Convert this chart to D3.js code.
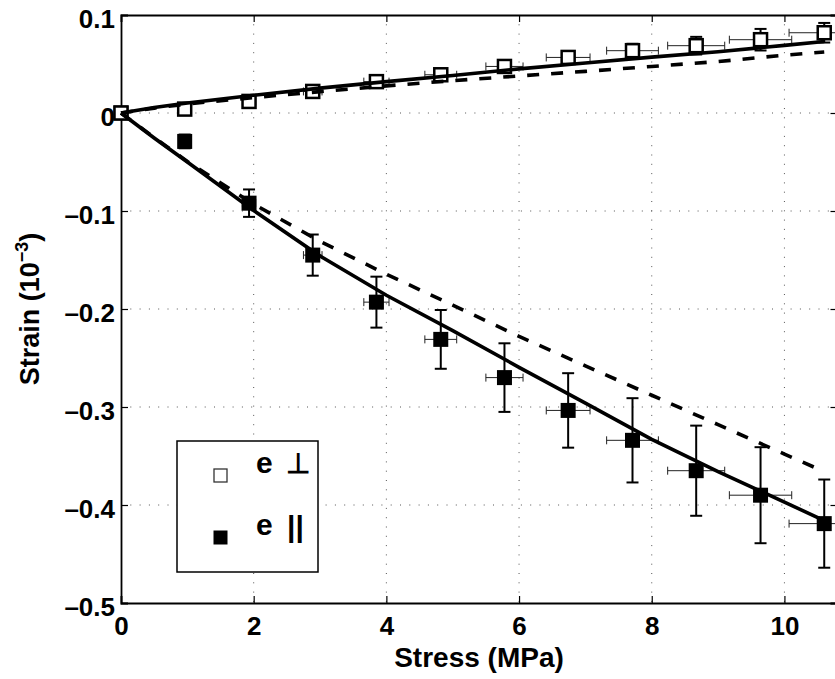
<!DOCTYPE html>
<html><head><meta charset="utf-8">
<script src="https://cdn.jsdelivr.net/npm/d3@7"></script>
<style>
html,body{margin:0;padding:0;background:#fff;}
svg{display:block;}
text{font-family:"Liberation Sans",Arial,Helvetica,sans-serif;font-weight:bold;fill:#000;}
</style></head>
<body><svg id="chart" width="835" height="679"></svg>
<script>
// ---- data ----
const xTicks = [0, 2, 4, 6, 8, 10];
const yTicks = [0.1, 0, -0.1, -0.2, -0.3, -0.4, -0.5];
const stress = [0, 0.96, 1.93, 2.89, 3.85, 4.82, 5.78, 6.74, 7.71, 8.67, 9.64, 10.6];
const stressErr = [0, 0.05, 0.10, 0.14, 0.19, 0.24, 0.28, 0.33, 0.39, 0.43, 0.47, 0.53];
const strainPerp = [0, 0.004, 0.0118, 0.022, 0.032, 0.039, 0.0475, 0.0567, 0.0636, 0.0687, 0.0748, 0.0819];
const perpErr = [0, 0.001, 0.002, 0.003, 0.003, 0.004, 0.005, 0.005, 0.007, 0.009, 0.011, 0.010];
const strainPar = [0, -0.029, -0.092, -0.145, -0.193, -0.231, -0.270, -0.3035, -0.334, -0.365, -0.390, -0.419];
const parErr = [0, 0.007, 0.014, 0.021, 0.026, 0.030, 0.035, 0.038, 0.043, 0.046, 0.049, 0.045];
// model curves
const curveX = [0, 0.5, 1, 2, 3, 4, 5, 6, 7, 8, 9, 10, 10.6];
const perpSolid = [0, 0.0057, 0.0102, 0.0181, 0.0254, 0.0320, 0.0383, 0.0450, 0.0510, 0.0570, 0.0625, 0.0690, 0.0730];
const perpDash  = [0, 0.0050, 0.0092, 0.0158, 0.0218, 0.0277, 0.0330, 0.0378, 0.0425, 0.0475, 0.0525, 0.0590, 0.0622];
const parSolid  = [0, -0.0255, -0.0500, -0.0995, -0.1460, -0.1860, -0.2220, -0.2595, -0.2960, -0.3330, -0.3660, -0.3970, -0.4160];
const parDash   = [0, -0.0250, -0.0495, -0.0930, -0.1310, -0.1645, -0.1960, -0.2280, -0.2580, -0.2880, -0.3180, -0.3480, -0.3660];
const legendLabels = ["e", "e"];
const legendSymbols = ["\u22A5", "||"];

// ---- layout ----
const svg = d3.select("#chart");
const L = 121, T = 15, B = 603, R = 837.5;
const x = d3.scaleLinear().domain([0, 10.8]).range([L, R]);
const y = d3.scaleLinear().domain([-0.5, 0.1]).range([B, T]);

// grid
const grid = svg.append("g");
grid.selectAll(".gx").data(xTicks.filter(d => d > 0)).enter().append("line")
  .attr("x1", d => x(d)).attr("x2", d => x(d)).attr("y1", T).attr("y2", B)
  .attr("stroke", "#555").attr("stroke-width", 1).attr("stroke-dasharray", "1,8.3");
grid.selectAll(".gy").data(yTicks.filter(d => d > -0.5 && d < 0.1)).enter().append("line")
  .attr("y1", d => y(d)).attr("y2", d => y(d)).attr("x1", L).attr("x2", R)
  .attr("stroke", "#555").attr("stroke-width", 1).attr("stroke-dasharray", "1,8.3");

// axes
const fmt = d => (d < 0 ? "\u2013" : "") + (d === 0 ? "0" : String(Math.abs(Math.round(d * 10) / 10)));
const axL = svg.append("g").attr("transform", `translate(${L},0)`)
  .call(d3.axisLeft(y).tickValues(yTicks).tickSize(-7).tickPadding(6).tickFormat(fmt));
const axR = svg.append("g").attr("transform", `translate(${R},0)`)
  .call(d3.axisRight(y).tickValues(yTicks).tickSize(-7).tickFormat(""));
const axB = svg.append("g").attr("transform", `translate(0,${B})`)
  .call(d3.axisBottom(x).tickValues(xTicks).tickSize(-7).tickPadding(14).tickFormat(d3.format("d")));
const axT = svg.append("g").attr("transform", `translate(0,${T})`)
  .call(d3.axisTop(x).tickValues(xTicks).tickSize(-7).tickFormat(""));
[axL, axR, axB, axT].forEach(a => {
  a.select(".domain").attr("stroke", "#000").attr("stroke-width", 1.8);
  a.selectAll(".tick line").attr("stroke", "#000").attr("stroke-width", 1.2);
});
axL.selectAll("text").attr("font-size", 26).attr("font-family", "Liberation Sans, Arial, sans-serif")
  .attr("font-weight", "bold").attr("dy", "0.48em");
axB.selectAll("text").attr("font-size", 26).attr("font-family", "Liberation Sans, Arial, sans-serif")
  .attr("font-weight", "bold");

// axis labels
svg.append("text").attr("x", 479).attr("y", 667).attr("text-anchor", "middle")
  .attr("font-size", 28).text("Stress (MPa)");
const yl = svg.append("text").attr("transform", "translate(39,309) rotate(-90)")
  .attr("text-anchor", "middle").attr("font-size", 27);
yl.append("tspan").text("Strain (10");
yl.append("tspan").attr("font-size", 18).attr("dy", -11).text("\u22123");
yl.append("tspan").attr("dy", 11).text(")");

// data helpers
const pts = (vals, errs) => stress.map((s, i) => ({ s, v: vals[i], e: errs[i], h: stressErr[i] }));
const perp = pts(strainPerp, perpErr);
const par = pts(strainPar, parErr);

function errorBars(data) {
  const g = svg.append("g");
  data.forEach(d => {
    if (d.h > 0) {
      g.append("line").attr("x1", x(d.s - d.h)).attr("x2", x(d.s + d.h)).attr("y1", y(d.v)).attr("y2", y(d.v))
        .attr("stroke", "#222").attr("stroke-width", 1);
      [d.s - d.h, d.s + d.h].forEach(xx => g.append("line").attr("x1", x(xx)).attr("x2", x(xx))
        .attr("y1", y(d.v) - 4).attr("y2", y(d.v) + 4).attr("stroke", "#222").attr("stroke-width", 1));
    }
    if (d.e > 0) {
      g.append("line").attr("x1", x(d.s)).attr("x2", x(d.s)).attr("y1", y(d.v - d.e)).attr("y2", y(d.v + d.e))
        .attr("stroke", "#000").attr("stroke-width", 2);
      [d.v - d.e, d.v + d.e].forEach(vv => g.append("line").attr("x1", x(d.s) - 6).attr("x2", x(d.s) + 6)
        .attr("y1", y(vv)).attr("y2", y(vv)).attr("stroke", "#000").attr("stroke-width", 2));
    }
  });
}
errorBars(par);
errorBars(perp);

// markers
const ms = 15;
svg.append("g").selectAll("rect").data(par).enter().append("rect")
  .attr("x", d => x(d.s) - ms / 2).attr("y", d => y(d.v) - ms / 2).attr("width", ms).attr("height", ms)
  .attr("fill", "#000");
svg.append("g").selectAll("rect").data(perp).enter().append("rect")
  .attr("x", d => x(d.s) - 6.5).attr("y", d => y(d.v) - 6.5).attr("width", 13).attr("height", 13)
  .attr("fill", "#fff").attr("stroke", "#000").attr("stroke-width", 2.5);

// curves
const line = d3.line().x(d => x(d[0])).y(d => y(d[1]));
function curve(vals, dashed) {
  svg.append("path").datum(curveX.map((c, i) => [c, vals[i]])).attr("d", line)
    .attr("fill", "none").attr("stroke", "#000").attr("stroke-width", 3.6)
    .attr("stroke-dasharray", dashed ? "12,12" : null);
}
curve(perpDash, true);
curve(parDash, true);
curve(perpSolid, false);
curve(parSolid, false);

// legend
const lg = svg.append("g");
lg.append("rect").attr("x", 177).attr("y", 441).attr("width", 141).attr("height", 131)
  .attr("fill", "#fff").attr("stroke", "#000").attr("stroke-width", 1.5);
lg.append("rect").attr("x", 214).attr("y", 469).attr("width", 13).attr("height", 13)
  .attr("fill", "#fff").attr("stroke", "#333").attr("stroke-width", 1.3);
lg.append("rect").attr("x", 213.5).attr("y", 530.5).attr("width", 14).attr("height", 14).attr("fill", "#000");
lg.append("text").attr("x", 256).attr("y", 473).attr("font-size", 30).text(legendLabels[0]);
lg.append("text").attr("x", 286).attr("y", 473).attr("font-size", 28).attr("font-weight", "normal")
  .attr("font-family", "DejaVu Sans").text(legendSymbols[0]);
lg.append("text").attr("x", 256).attr("y", 535).attr("font-size", 30).text(legendLabels[1]);
lg.append("text").attr("x", 287).attr("y", 537).attr("font-size", 30).text(legendSymbols[1]);
</script></body></html>
